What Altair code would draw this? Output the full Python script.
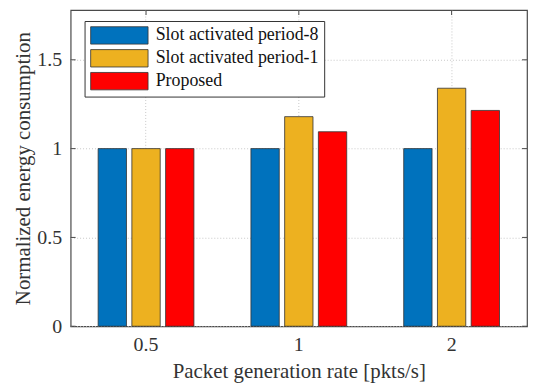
import altair as alt
import pandas as pd

rates = ["0.5", "1", "2"]
series = ["Slot activated period-8", "Slot activated period-1", "Proposed"]
period8 = [1.0, 1.0, 1.0]
period1 = [1.0, 1.18, 1.34]
proposed = [1.0, 1.095, 1.215]
colors = ["#0072BD", "#EDB120", "#FF0000"]
y_ticks = [0, 0.5, 1, 1.5]

rows = []
for i, r in enumerate(rates):
    for s, vals in zip(series, [period8, period1, proposed]):
        rows.append({"rate": r, "series": s, "value": vals[i]})
df = pd.DataFrame(rows)
df_y = pd.DataFrame({"value": y_ticks})
df_x = pd.DataFrame({"rate": rates})

W, H = 459, 318
FONT = "Times New Roman, Liberation Serif, serif"
TXT = "#333333"
FRAME = "#4a4a4a"

xscale = alt.Scale(domain=rates, paddingInner=0.373, paddingOuter=0.18)
yscale = alt.Scale(domain=[0, 1.78], nice=False, zero=True)

xaxis = alt.Axis(title="Packet generation rate [pkts/s]", labelAngle=0,
                 grid=True, gridDash=[1, 2], gridColor="#c8c8c8",
                 ticks=False, domain=False, labelPadding=8, titlePadding=7,
                 labelFont=FONT, labelFontSize=20, labelColor=TXT,
                 titleFont=FONT, titleFontSize=21, titleFontWeight="normal",
                 titleColor=TXT)
yaxis = alt.Axis(values=y_ticks, format="~g", title="Normalized energy consumption",
                 grid=True, gridDash=[1, 2], gridColor="#c8c8c8",
                 ticks=False, domain=False, labelPadding=9, titlePadding=3,
                 labelFont=FONT, labelFontSize=20, labelColor=TXT,
                 titleFont=FONT, titleFontSize=21, titleFontWeight="normal",
                 titleColor=TXT)

bars = alt.Chart(df).mark_bar(stroke="#333333", strokeWidth=0.8).encode(
    x=alt.X("rate:N", scale=xscale, sort=rates, axis=xaxis),
    xOffset=alt.XOffset("series:N", sort=series, scale=alt.Scale(paddingInner=0.16)),
    y=alt.Y("value:Q", scale=yscale, axis=yaxis),
    color=alt.Color("series:N", sort=series, scale=alt.Scale(domain=series, range=colors),
                    legend=alt.Legend(title=None, orient="none", legendX=14, legendY=11,
                                      symbolType="M-3.3,-1H3.3V1H-3.3Z", symbolSize=306,
                                      symbolStrokeColor="#333333", symbolStrokeWidth=0.8,
                                      symbolOffset=20.5, labelOffset=27,
                                      labelFont=FONT, labelFontSize=18, labelColor="#111111",
                                      strokeColor="#333333", fillColor="white",
                                      padding=5, rowPadding=2, symbolOpacity=1,
                                      labelLimit=400)),
)

tick_left = alt.Chart(df_y).mark_rule(color=FRAME, strokeWidth=1).encode(
    y=alt.Y("value:Q", scale=yscale, axis=yaxis), x=alt.value(0), x2=alt.value(5))
tick_right = alt.Chart(df_y).mark_rule(color=FRAME, strokeWidth=1).encode(
    y=alt.Y("value:Q", scale=yscale, axis=yaxis), x=alt.value(W - 5), x2=alt.value(W))
tick_top = alt.Chart(df_x).mark_rule(color=FRAME, strokeWidth=1).encode(
    x=alt.X("rate:N", scale=xscale, sort=rates, bandPosition=0.5, axis=xaxis),
    y=alt.value(0), y2=alt.value(5))

chart = alt.layer(tick_left, tick_right, tick_top, bars).properties(
    width=W, height=H,
    padding={"left": 5, "top": 0, "right": 0, "bottom": 0},
).configure_view(stroke=FRAME, strokeWidth=1.2)

chart.save("out.html", embed_options={"renderer": "svg", "actions": False})
